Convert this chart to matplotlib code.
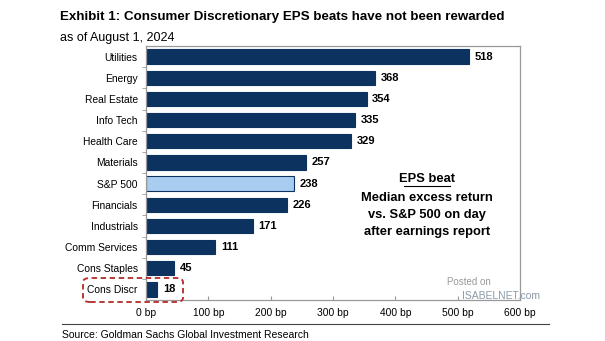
import matplotlib
matplotlib.use("Agg")
import matplotlib.pyplot as plt
from matplotlib.patches import FancyBboxPatch
from matplotlib.lines import Line2D

plt.rcParams['font.family'] = ['Liberation Sans', 'DejaVu Sans']

# Dados
sectors = ["Utilities", "Energy", "Real Estate", "Info Tech", "Health Care", "Materials",
           "S&P 500", "Financials", "Industrials", "Comm Services", "Cons Staples", "Cons Discr"]
eps_beat_bp = [518, 368, 354, 335, 329, 257, 238, 226, 171, 111, 45, 18]
x_ticks = [0, 100, 200, 300, 400, 500, 600]
x_tick_labels = [f"{t} bp" for t in x_ticks]

NAVY = "#0c3260"
LIGHT = "#a8cdf0"

fig = plt.figure(figsize=(6.05, 3.41), dpi=100)
ax = fig.add_axes([146 / 605, 1 - 300 / 341, (520 - 146) / 605, (300 - 46) / 341])

pos = list(range(len(sectors)))
colors = [LIGHT if s == "S&P 500" else NAVY for s in sectors]
ax.barh(pos, eps_beat_bp, height=0.68, color=colors, edgecolor=NAVY, linewidth=0.8)
for p, v in zip(pos, eps_beat_bp):
    ax.text(v + 9, p, str(v), va="center", ha="left", fontsize=8, fontweight="bold")

ax.set_ylim(len(sectors) - 0.5, -0.5)
ax.set_xlim(0, 600)
ax.set_yticks(pos)
ax.set_yticklabels(sectors, fontsize=7.4)
ax.set_yticks([p + 0.5 for p in pos[:-1]], minor=True)
ax.tick_params(axis="y", which="major", length=0, pad=6)
ax.tick_params(axis="y", which="minor", length=3, color="#999999", direction="out")
ax.set_xticks(x_ticks)
ax.set_xticklabels(x_tick_labels, fontsize=7.4)
ax.tick_params(axis="x", length=3, color="#999999", direction="in", pad=6)
for sp in ax.spines.values():
    sp.set_color("#999999")
    sp.set_linewidth(0.9)

# texto do lado
fig.text(427 / 605, 1 - 179 / 341, "EPS beat", ha="center", va="center",
         fontsize=9.3, fontweight="bold")
fig.add_artist(Line2D([404 / 605, 450 / 605], [1 - 186 / 341] * 2, color="black", lw=0.8))
for yy, line in zip([198, 215, 232], ["Median excess return", "vs. S&P 500 on day", "after earnings report"]):
    fig.text(427 / 605, 1 - yy / 341, line, ha="center", va="center", fontsize=9.3, fontweight="bold")

# caixa vermelha em Cons Discr
box = FancyBboxPatch((83 / 605, 1 - 302 / 341), (183 - 83) / 605, (302 - 278) / 341,
                     boxstyle="round,pad=0,rounding_size=0.012", transform=fig.transFigure,
                     fill=False, edgecolor="#b22a2a", linestyle=(0, (3, 2)), lw=1.3)
fig.add_artist(box)

# marca d'agua
fig.text(447 / 605, 1 - 282 / 341, "Posted on", fontsize=7, color="#999999", va="center")
fig.text(462 / 605, 1 - 296 / 341, "ISABELNET.com", fontsize=7.5, color="#8a9aaa", va="center")

fig.text(60 / 605, 1 - 17 / 341, "Exhibit 1: Consumer Discretionary EPS beats have not been rewarded",
         fontsize=9.6, fontweight="bold", va="center")
fig.text(60 / 605, 1 - 38 / 341, "as of August 1, 2024", fontsize=9, va="center")

fig.add_artist(Line2D([62 / 605, 549 / 605], [1 - 324 / 341] * 2, color="#444444", lw=0.8))
fig.text(62 / 605, 1 - 335 / 341, "Source: Goldman Sachs Global Investment Research", fontsize=7.5,
         va="center")

fig.savefig("out.png", dpi=100)
